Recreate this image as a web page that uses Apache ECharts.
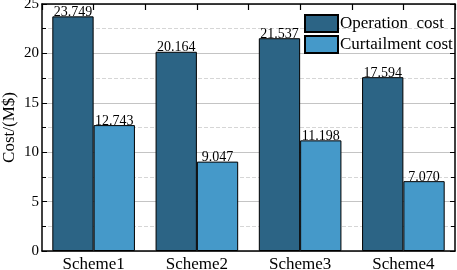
<!DOCTYPE html>
<html>
<head>
<meta charset="utf-8">
<script src="https://cdn.jsdelivr.net/npm/echarts@6/dist/echarts.min.js"></script>
<style>
  html, body { margin: 0; padding: 0; background: #fff; }
  #chart { width: 457px; height: 270px; }
</style>
</head>
<body>
<div id="chart"></div>
<script>
  // data
  var categories = ['Scheme1', 'Scheme2', 'Scheme3', 'Scheme4']
  var operationCost = [23.749, 20.164, 21.537, 17.594]
  var curtailmentCost = [12.743, 9.047, 11.198, 7.070]
  var seriesNames = ['Operation  cost', 'Curtailment cost']

  var font = 'Liberation Serif'
  var chart = echarts.init(document.getElementById('chart'))

  // top frame has a tick every half category
  var halfSlots = []
  categories.forEach(function (c) {
    halfSlots.push(c + '-a', c + '-b')
  })

  var valueLabel = {
    show: true,
    position: 'top',
    distance: -3,
    color: '#000',
    fontFamily: font,
    fontSize: 14,
    formatter: function (p) {
      return p.value.toFixed(3)
    }
  }

  var option = {
    animation: false,
    grid: { left: 42, right: 2, top: 4, bottom: 19, outerBoundsMode: 'none', containLabel: false },
    legend: {
      orient: 'vertical',
      left: 304,
      top: 14,
      itemWidth: 33,
      itemHeight: 17,
      itemGap: 2,
      padding: 0,
      icon: 'rect',
      textStyle: { fontFamily: font, fontSize: 17, color: '#000', padding: [0, 0, 0, -3], lineHeight: 17 },
      data: seriesNames
    },
    xAxis: [
      {
        type: 'category',
        data: categories,
        axisLine: { lineStyle: { color: '#000', width: 1.5 } },
        axisTick: { inside: true, length: 5, lineStyle: { color: '#000' } },
        axisLabel: { color: '#000', fontFamily: font, fontSize: 17, margin: 5 }
      },
      {
        type: 'category',
        position: 'top',
        data: halfSlots,
        axisLine: { show: true, onZero: false, lineStyle: { color: '#000', width: 1.5 } },
        axisTick: { show: true, inside: true, length: 6, interval: 0, lineStyle: { color: '#000', width: 1.2 } },
        axisLabel: { show: false },
        splitLine: { show: false }
      }
    ],
    yAxis: [
      {
        type: 'value',
        min: 0,
        max: 25,
        interval: 5,
        name: 'Cost/(M$)',
        nameLocation: 'middle',
        nameGap: 24,
        nameMoveOverlap: false,
        nameTextStyle: { fontFamily: font, fontSize: 17, color: '#000' },
        axisLine: { show: true, lineStyle: { color: '#000', width: 1.5 } },
        axisTick: { show: true, inside: true, length: 5, lineStyle: { color: '#000' } },
        minorTick: { show: true, splitNumber: 2, length: 4, lineStyle: { color: '#000' } },
        axisLabel: { color: '#000', fontFamily: font, fontSize: 15, margin: 3 },
        splitLine: { show: true, lineStyle: { color: '#c4c4c4', width: 1 } },
        minorSplitLine: { show: true, lineStyle: { color: '#d6d6d6', type: 'dashed', width: 1 } }
      },
      {
        // right frame
        type: 'value',
        position: 'right',
        min: 0,
        max: 25,
        interval: 5,
        axisLine: { show: true, onZero: false, lineStyle: { color: '#000', width: 1.5 } },
        axisTick: { show: true, inside: true, length: 5, lineStyle: { color: '#000' } },
        minorTick: { show: true, splitNumber: 2, length: 4, lineStyle: { color: '#000' } },
        axisLabel: { show: false },
        splitLine: { show: false }
      }
    ],
    series: [
      {
        name: seriesNames[0],
        type: 'bar',
        data: operationCost,
        barGap: 0,
        barCategoryGap: '20%',
        itemStyle: { color: '#2c6485', borderColor: '#000', borderWidth: 1 },
        label: valueLabel
      },
      {
        name: seriesNames[1],
        type: 'bar',
        data: curtailmentCost,
        barGap: 0,
        barCategoryGap: '20%',
        itemStyle: { color: '#4599c9', borderColor: '#000', borderWidth: 1 },
        label: valueLabel
      }
    ]
  }

  chart.setOption(option)
</script>
</body>
</html>
